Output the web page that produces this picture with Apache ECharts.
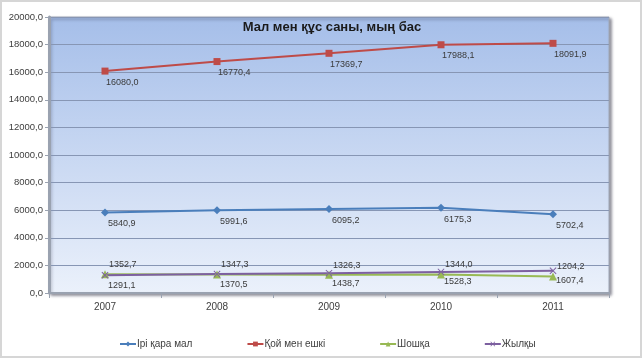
<!DOCTYPE html>
<html><head><meta charset="utf-8">
<script src="https://cdn.jsdelivr.net/npm/echarts@6/dist/echarts.min.js"></script>
<style>html,body{margin:0;padding:0;background:#fff}#c{width:642px;height:358px}</style>
</head><body><div id="c"></div>
<script>
const categories = ['2007','2008','2009','2010','2011'];
const cattle = [5840.9, 5991.6, 6095.2, 6175.3, 5702.4];
const sheepGoats = [16080.0, 16770.4, 17369.7, 17988.1, 18091.9];
const pigs = [1352.7, 1347.3, 1326.3, 1344.0, 1204.2];
const horses = [1291.1, 1370.5, 1438.7, 1528.3, 1607.4];
const seriesNames = ['Ірі қара мал', 'Қой мен ешкі', 'Шошқа', 'Жылқы'];
const titleText = 'Мал мен құс саны, мың бас';

const fmt = v => Number(v).toFixed(1).replace('.', ',');
const FONT = '"Liberation Sans", Arial, sans-serif';
const lbl = (pos, dx, dy) => ({
  show: true, position: pos, align: 'left', offset: [dx, dy],
  fontSize: 9, color: '#3a3a3a', fontFamily: FONT,
  formatter: p => fmt(p.value)
});
function mk(name, data, color, symbol, size, pos, dx, dy) {
  return {
    name, type: 'line', data, symbol, symbolSize: size,
    lineStyle: { color, width: 2 }, itemStyle: { color },
    label: lbl(pos, dx, dy), animation: false
  };
}
const XSYM = 'path://M0,1L1,0L5,4L9,0L10,1L6,5L10,9L9,10L5,6L1,10L0,9L4,5Z';
const chart = echarts.init(document.getElementById('c'), null, { renderer: 'canvas' });
chart.setOption({
  backgroundColor: '#ffffff',
  animation: false,
  textStyle: { fontFamily: FONT },
  graphic: [{
    type: 'rect', z: -10, silent: true,
    shape: { x: 1, y: 1, width: 640, height: 356 },
    style: { fill: 'none', stroke: '#d6d6d6', lineWidth: 2 }
  }],
  title: {
    text: titleText, left: 327, textAlign: 'center', top: 16,
    textStyle: { fontSize: 13, fontWeight: 'bold', color: '#1a1a1a', fontFamily: FONT }
  },
  legend: {
    data: seriesNames, left: 114, top: 334, itemWidth: 16, itemHeight: 6, itemGap: 54,
    textStyle: { fontSize: 10, color: '#404040', fontFamily: FONT, padding: [0, 0, 0, -4] }
  },
  grid: {
    left: 49, right: 33, top: 17, bottom: 65, show: true,
    backgroundColor: new echarts.graphic.LinearGradient(0, 0, 0, 1, [
      { offset: 0, color: '#a5bee9' }, { offset: 1, color: '#ebf1fb' }
    ]),
    borderColor: '#a3abba', borderWidth: 1,
    shadowColor: 'rgba(40,40,60,0.55)', shadowBlur: 3, shadowOffsetX: 2, shadowOffsetY: 2
  },
  xAxis: {
    type: 'category', data: categories, boundaryGap: true,
    axisLine: { lineStyle: { color: '#9aa2b0', width: 2 } },
    axisTick: { show: true, length: 5, lineStyle: { color: '#9aa2b0' } },
    axisLabel: { fontSize: 10, color: '#404040', margin: 9, fontFamily: FONT }
  },
  yAxis: {
    type: 'value', min: 0, max: 20000, interval: 2000,
    axisLine: { show: true, lineStyle: { color: '#9aa2b0', width: 3 } },
    axisTick: { show: true, length: 4, lineStyle: { color: '#9aa2b0' } },
    axisLabel: { fontSize: 9.5, color: '#404040', margin: 6, fontFamily: FONT, formatter: v => fmt(v) },
    splitLine: { lineStyle: { color: '#8796b4', width: 1 } }
  },
  series: [
    mk(seriesNames[0], cattle, '#4a7ebb', 'diamond', 8, 'bottom', 3, -2),
    mk(seriesNames[1], sheepGoats, '#be4b48', 'rect', 7, 'bottom', 1, -2),
    mk(seriesNames[2], pigs, '#98b954', 'triangle', 8, 'top', 4, 4),
    mk(seriesNames[3], horses, '#7d60a0', XSYM, 7, 'bottom', 3, -3)
  ]
});
</script></body></html>
